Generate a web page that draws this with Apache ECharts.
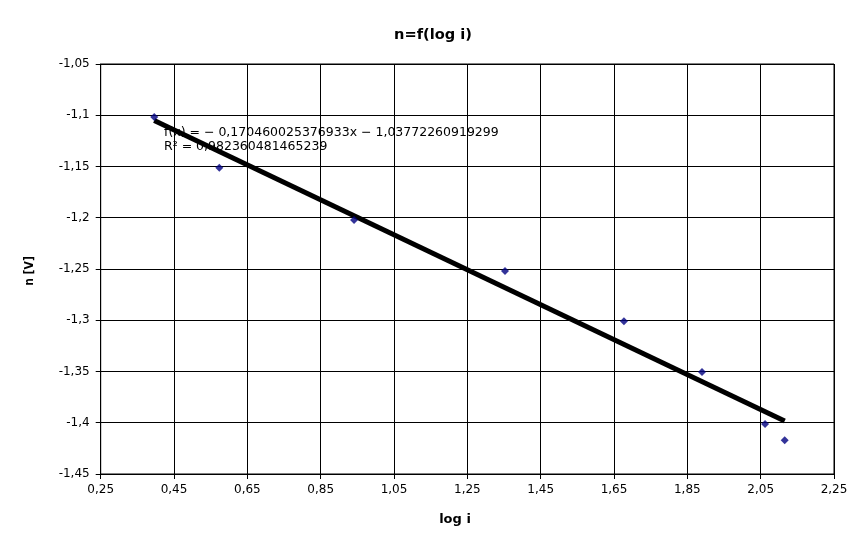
<!DOCTYPE html>
<html>
<head>
<meta charset="utf-8">
<script src="https://cdn.jsdelivr.net/npm/echarts@6/dist/echarts.min.js"></script>
<style>html,body{margin:0;padding:0;background:#fff}#c{width:866px;height:548px}</style>
</head>
<body>
<div id="c"></div>
<script>
var logI = [0.396, 0.5735, 0.941, 1.3527, 1.677, 1.890, 2.062, 2.1155];
var nV = [-1.1017, -1.1512, -1.2022, -1.252, -1.301, -1.3505, -1.4012, -1.4171];
var trendX = [0.396, 2.1155];
var trendY = [-1.1052, -1.3983];
var xTicks = ['0,25','0,45','0,65','0,85','1,05','1,25','1,45','1,65','1,85','2,05','2,25'];
var yTicks = ['-1,05','-1,1','-1,15','-1,2','-1,25','-1,3','-1,35','-1,4','-1,45'];
var eqText = 'f(x) = − 0,170460025376933x − 1,03772260919299';
var r2Text = 'R² = 0,982360481465239';

var font = 'DejaVu Sans';
var chart = echarts.init(document.getElementById('c'), null, {renderer:'canvas'});
var pts = logI.map(function(x,i){return [x,nV[i]];});
var tr = trendX.map(function(x,i){return [x,trendY[i]];});
chart.setOption({
  animation:false,
  backgroundColor:'#fff',
  title:{text:'n=f(log i)', left:'center', top:23, textStyle:{fontFamily:font, fontSize:14.6, fontWeight:'bold', color:'#000'}},
  grid:{left:100.7, right:32, top:64, bottom:74, show:true, borderColor:'#000', borderWidth:1},
  xAxis:{type:'value', min:0.25, max:2.25, interval:0.2,
    axisLine:{lineStyle:{color:'#000'}}, axisTick:{show:true, length:5, lineStyle:{color:'#000'}},
    splitLine:{show:true, lineStyle:{color:'#000', width:1}},
    axisLabel:{fontFamily:font, fontSize:12, color:'#000', margin:10, formatter:function(v){var i=Math.round((v-0.25)/0.2); return xTicks[i]||'';}}},
  yAxis:{type:'value', min:-1.45, max:-1.05, interval:0.05,
    axisLine:{show:true, lineStyle:{color:'#000'}}, axisTick:{show:true, length:5, lineStyle:{color:'#000'}},
    splitLine:{show:true, lineStyle:{color:'#000', width:1}},
    axisLabel:{fontFamily:font, fontSize:12, color:'#000', margin:11, formatter:function(v){var i=Math.round((-1.05-v)/0.05); return yTicks[i]||'';}}},
  series:[
    {type:'line', data:tr, symbol:'none', lineStyle:{color:'#000', width:5}, z:2},
    {type:'scatter', data:pts, symbol:'diamond', symbolSize:8, itemStyle:{color:'#000080'}, z:3}
  ],
  graphic:[
    {type:'text', left:164, top:125, z:10, style:{text:eqText + '\n' + r2Text, font:'12.5px "DejaVu Sans"', fill:'#000', lineHeight:14.6}},
    {type:'text', x:455, y:520, style:{text:'log i', font:'bold 13px "DejaVu Sans"', fill:'#000', textAlign:'center', textVerticalAlign:'middle'}},
    {type:'text', x:30, y:271, rotation:Math.PI/2, style:{text:'n [V]', font:'bold 12px "DejaVu Sans Condensed"', fill:'#000', textAlign:'center', textVerticalAlign:'middle'}}
  ]
});
</script>
</body>
</html>
